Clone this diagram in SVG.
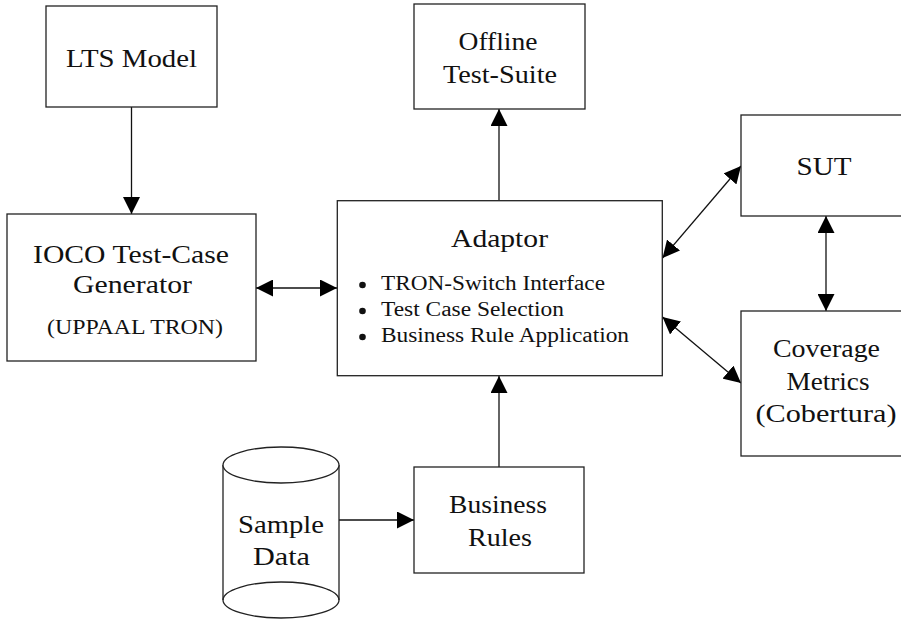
<svg xmlns="http://www.w3.org/2000/svg" width="901" height="619" viewBox="0 0 901 619">
<style>
.box{fill:#fff;stroke:#222;stroke-width:1.3}
text{font-family:"Liberation Serif","Tinos","Times New Roman","DejaVu Serif","Noto Serif",serif}
.t{font-size:25px;fill:#111;text-anchor:middle}
.s{font-size:20px;fill:#111}
.c{stroke:#111;stroke-width:1.3;fill:none;marker-end:url(#ah)}
.d{marker-start:url(#ah)}
</style>
<defs>
<marker id="ah" markerUnits="userSpaceOnUse" markerWidth="17" markerHeight="17" refX="16" refY="8" orient="auto-start-reverse" viewBox="0 0 16 16">
<path d="M0,0 L16,8 L0,16 z" fill="#000"/>
</marker>
</defs>
<rect width="901" height="619" fill="#fff"/>
<g id="connectors">
<line class="c" x1="131.5" y1="107" x2="131.5" y2="214"/>
<line class="c d" x1="256" y1="288" x2="337" y2="288"/>
<line class="c" x1="499" y1="200" x2="499" y2="109"/>
<line class="c d" x1="662.5" y1="258" x2="741" y2="166"/>
<line class="c d" x1="662.5" y1="317" x2="741" y2="383"/>
<line class="c d" x1="826" y1="216" x2="826" y2="311"/>
<line class="c" x1="499" y1="467" x2="499" y2="376"/>
<line class="c" x1="339" y1="520" x2="414" y2="520"/>
</g>
<g id="lts">
<rect class="box" x="46" y="6" width="171" height="101"/>
<text class="t" x="131.5" y="66.5" textLength="131" lengthAdjust="spacingAndGlyphs">LTS Model</text>
</g>
<g id="offline">
<rect class="box" x="414" y="4" width="171" height="105"/>
<text class="t" x="498" y="50" textLength="79" lengthAdjust="spacingAndGlyphs">Offline</text>
<text class="t" x="500" y="83" textLength="114" lengthAdjust="spacingAndGlyphs">Test-Suite</text>
</g>
<g id="ioco">
<rect class="box" x="7" y="214" width="249" height="147"/>
<text class="t" x="131" y="263" textLength="196" lengthAdjust="spacingAndGlyphs">IOCO Test-Case</text>
<text class="t" x="132.5" y="293" textLength="119" lengthAdjust="spacingAndGlyphs">Generator</text>
<text class="t" x="135" y="334" style="font-size:22px" textLength="176" lengthAdjust="spacingAndGlyphs">(UPPAAL TRON)</text>
</g>
<g id="adaptor">
<rect class="box" x="337.3" y="200.7" width="325" height="175"/>
<text class="t" x="499.5" y="247" textLength="97" lengthAdjust="spacingAndGlyphs">Adaptor</text>
<circle cx="362.5" cy="285" r="3.3" fill="#111"/>
<circle cx="362.5" cy="311" r="3.3" fill="#111"/>
<circle cx="362.5" cy="337" r="3.3" fill="#111"/>
<text class="s" x="381" y="290" textLength="224" lengthAdjust="spacingAndGlyphs">TRON-Switch Interface</text>
<text class="s" x="381" y="316" textLength="183" lengthAdjust="spacingAndGlyphs">Test Case Selection</text>
<text class="s" x="381" y="342" textLength="248" lengthAdjust="spacingAndGlyphs">Business Rule Application</text>
</g>
<g id="sut">
<rect class="box" x="741" y="115" width="170" height="101"/>
<text class="t" x="824" y="175" textLength="55" lengthAdjust="spacingAndGlyphs">SUT</text>
</g>
<g id="coverage">
<rect class="box" x="741" y="311" width="170" height="145"/>
<text class="t" x="826.5" y="357" textLength="107" lengthAdjust="spacingAndGlyphs">Coverage</text>
<text class="t" x="828" y="390" textLength="83" lengthAdjust="spacingAndGlyphs">Metrics</text>
<text class="t" x="826" y="422" textLength="141" lengthAdjust="spacingAndGlyphs">(Cobertura)</text>
</g>
<g id="sample-data">
<path d="M223,465 L223,600 M339,465 L339,600" stroke="#222" stroke-width="1.3" fill="none"/>
<ellipse cx="281" cy="600" rx="58" ry="18" fill="none" stroke="#222" stroke-width="1.3"/>
<ellipse cx="281" cy="465" rx="58" ry="18" fill="#fff" stroke="#222" stroke-width="1.3"/>
<text class="t" x="281" y="533" textLength="86" lengthAdjust="spacingAndGlyphs">Sample</text>
<text class="t" x="281.5" y="565" textLength="57" lengthAdjust="spacingAndGlyphs">Data</text>
</g>
<g id="business-rules">
<rect class="box" x="414" y="467" width="170" height="106"/>
<text class="t" x="498" y="513" textLength="98" lengthAdjust="spacingAndGlyphs">Business</text>
<text class="t" x="500" y="546" textLength="64" lengthAdjust="spacingAndGlyphs">Rules</text>
</g>
</svg>
